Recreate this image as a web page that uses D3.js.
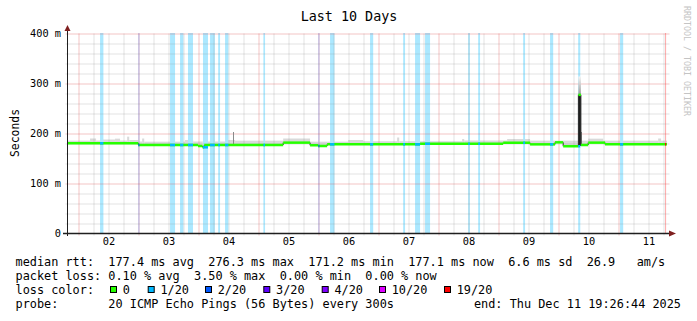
<!DOCTYPE html>
<html lang="en">
<head>
<meta charset="UTF-8">
<title>Last 10 Days</title>
<script src="https://d3js.org/d3.v7.min.js"></script>
<style>
  body { margin: 0; background: #fff; }
  svg { display: block; }
  text { font-family: "DejaVu Sans Mono", monospace; white-space: pre; }
</style>
</head>
<body>
<div id="chart"></div>
<script>
const width = 697, height = 321;
const start = "2025-12-01 19:26:44", end = "2025-12-11 19:26:44";
const dayLabels = ["02", "03", "04", "05", "06", "07", "08", "09", "10", "11"];
const yTicks = [0, 100, 200, 300, 400];

// median rtt (ms), step changes
const medianSteps = [
  ["2025-12-01 19:26", 179.4],
  ["2025-12-03 00:00", 176.0],
  ["2025-12-03 23:50", 174.0],
  ["2025-12-04 01:40", 171.4],
  ["2025-12-04 02:20", 176.0],
  ["2025-12-05 09:55", 180.7],
  ["2025-12-05 20:40", 175.5],
  ["2025-12-05 23:55", 174.0],
  ["2025-12-06 03:30", 177.3],
  ["2025-12-07 16:40", 178.5],
  ["2025-12-09 01:55", 180.5],
  ["2025-12-09 12:40", 177.3],
  ["2025-12-09 22:40", 181.3],
  ["2025-12-10 01:55", 173.5],
  ["2025-12-10 08:00", 276.3],
  ["2025-12-10 09:00", 176.0],
  ["2025-12-10 11:55", 180.7],
  ["2025-12-10 18:40", 177.3]
];

// upper edge of the smoke (ms)
const smokeSteps = [
  ["2025-12-01 19:26", 184.7],
  ["2025-12-02 04:40", 189],
  ["2025-12-02 07:05", 185],
  ["2025-12-02 08:40", 187],
  ["2025-12-02 14:40", 188.7],
  ["2025-12-02 16:40", 185],
  ["2025-12-02 19:30", 192.7],
  ["2025-12-02 20:20", 186],
  ["2025-12-02 23:55", 183],
  ["2025-12-03 01:30", 189],
  ["2025-12-03 02:20", 182.7],
  ["2025-12-03 18:40", 186],
  ["2025-12-03 21:55", 183],
  ["2025-12-04 05:30", 189],
  ["2025-12-04 06:20", 183],
  ["2025-12-04 11:30", 186],
  ["2025-12-04 14:40", 184.7],
  ["2025-12-05 09:55", 189],
  ["2025-12-05 20:40", 182.7],
  ["2025-12-06 11:55", 186],
  ["2025-12-06 17:55", 183.5],
  ["2025-12-07 07:30", 191],
  ["2025-12-07 08:20", 183.5],
  ["2025-12-08 09:30", 188],
  ["2025-12-08 10:20", 185],
  ["2025-12-09 03:30", 188],
  ["2025-12-09 12:40", 184.7],
  ["2025-12-10 11:55", 188.7],
  ["2025-12-10 17:55", 184.7],
  ["2025-12-11 15:55", 189],
  ["2025-12-11 17:05", 184.7]
];

// single dark smoke peaks: time, top (ms)
const darkSmoke = [
  ["2025-12-04 13:55", 202],
  ["2025-12-10 09:20", 202]
];

// the spike: from, to, low, median, high (ms)
const spike = [["2025-12-10 08:00", "2025-12-10 09:00", 174, 276.3, 313]];

// loss periods: from, to, loss level index
const lossSpans = [
  ["2025-12-02 08:40", "2025-12-02 10:00", 1],
  ["2025-12-03 00:00", "2025-12-03 00:25", 2],
  ["2025-12-03 12:40", "2025-12-03 14:40", 1],
  ["2025-12-03 16:40", "2025-12-03 18:00", 1],
  ["2025-12-03 19:50", "2025-12-03 21:50", 1],
  ["2025-12-04 01:50", "2025-12-04 03:50", 1],
  ["2025-12-04 04:40", "2025-12-04 06:35", 1],
  ["2025-12-04 07:55", "2025-12-04 08:40", 1],
  ["2025-12-04 10:40", "2025-12-04 12:00", 1],
  ["2025-12-05 02:00", "2025-12-05 02:40", 1],
  ["2025-12-06 00:00", "2025-12-06 00:25", 2],
  ["2025-12-06 04:40", "2025-12-06 06:25", 1],
  ["2025-12-06 20:40", "2025-12-06 21:55", 1],
  ["2025-12-07 09:55", "2025-12-07 10:40", 1],
  ["2025-12-07 14:40", "2025-12-07 16:40", 1],
  ["2025-12-07 18:40", "2025-12-07 20:40", 1],
  ["2025-12-08 11:55", "2025-12-08 12:35", 1],
  ["2025-12-08 15:55", "2025-12-08 16:40", 1],
  ["2025-12-09 09:55", "2025-12-09 10:40", 1],
  ["2025-12-09 20:40", "2025-12-09 21:55", 1],
  ["2025-12-10 07:55", "2025-12-10 08:45", 1],
  ["2025-12-11 00:40", "2025-12-11 01:55", 1],
  ["2025-12-11 18:40", "2025-12-11 19:05", 6]
];

const lossLabels = ["0", "1/20", "2/20", "3/20", "4/20", "10/20", "19/20"];
const lossColors = ["#26ff00", "#00b8ff", "#0059ff", "#5e00ff", "#7e00ff", "#dd00ff", "#ff0000"];

const legendLines = [
  "median rtt:  177.4 ms avg  276.3 ms max  171.2 ms min  177.1 ms now  6.6 ms sd  26.9   am/s",
  "packet loss: 0.10 % avg  3.50 % max  0.00 % min  0.00 % now",
  "loss color:",
  "probe:       20 ICMP Echo Pings (56 Bytes) every 300s"
];
const endLabel = "end: Thu Dec 11 19:26:44 2025";

const parseT = d3.utcParse("%Y-%m-%d %H:%M");
const parseS = d3.utcParse("%Y-%m-%d %H:%M:%S");
const t0 = parseS(start), t1 = parseS(end);

const x = d3.scaleUtc().domain([t0, t1]).range([67, 667]);
const y = d3.scaleLinear().domain([0, 400]).range([233, 33]);

const svg = d3.select("#chart").append("svg")
    .attr("width", width)
    .attr("height", height)
    .style("background", "#fff");

// median as segments
const med = medianSteps.map((d, i) => ({
  a: i === 0 ? t0 : parseT(d[0]),
  b: i < medianSteps.length - 1 ? parseT(medianSteps[i + 1][0]) : t1,
  v: d[1]
}));
const medianAt = t => {
  for (const s of med) if (t >= s.a && t < s.b) return s.v;
  return med[med.length - 1].v;
};

// smoke: split on every median / smoke break
const smk = smokeSteps.map((d, i) => ({
  a: i === 0 ? t0 : parseT(d[0]),
  b: i < smokeSteps.length - 1 ? parseT(smokeSteps[i + 1][0]) : t1,
  v: d[1]
}));
const smokeParts = [];
smk.forEach(s => {
  const cuts = [s.a, ...med.map(m => m.a).filter(t => t > s.a && t < s.b), s.b];
  for (let i = 0; i < cuts.length - 1; i++) {
    const mv = medianAt(cuts[i]);
    if (mv < s.v) smokeParts.push({ a: cuts[i], b: cuts[i + 1], lo: mv, hi: s.v });
  }
});

svg.append("g").selectAll("rect")
  .data(smokeParts)
  .join("rect")
    .attr("x", d => x(d.a))
    .attr("width", d => x(d.b) - x(d.a))
    .attr("y", d => y(d.hi))
    .attr("height", d => y(d.lo) - y(d.hi))
    .attr("fill", "#d9d9d9");

// loss background
const lossBg = lossSpans.map(d => ({ a: parseT(d[0]), b: parseT(d[1]), l: d[2] }));
svg.append("g").selectAll("rect")
  .data(lossBg)
  .join("rect")
    .attr("x", d => x(d.a))
    .attr("width", d => Math.max(1, x(d.b) - x(d.a)))
    .attr("y", y(400))
    .attr("height", y(0) - y(400))
    .attr("fill", d => d3.interpolateRgb(lossColors[d.l], "#fff")(0.67));

// grid
const grid = svg.append("g").attr("transform", "translate(0.5,0.5)");
const snap = v => Math.floor(v);
const minorX = d3.utcHour.every(6).range(t0, t1).filter(t => t.getUTCHours() !== 0);
const majorX = d3.utcDay.range(t0, t1);
const minorY = d3.range(0, 401, 20).filter(v => v % 100 !== 0);
const gridGrey = "rgba(143,143,143,0.25)", gridRed = "rgba(222,79,79,0.33)";

grid.append("g").call(d3.axisBottom(x).tickValues(minorX).tickSize(-202).tickFormat(""))
  .attr("transform", "translate(0,235)")
  .call(g => g.select(".domain").remove())
  .call(g => g.selectAll("line").attr("stroke", gridGrey)
    .attr("transform", d => `translate(${snap(x(d)) - x(d)},0)`));
grid.append("g").call(d3.axisLeft(y).tickValues(minorY).tickSize(-604).tickFormat(""))
  .attr("transform", "translate(65,0)")
  .call(g => g.select(".domain").remove())
  .call(g => g.selectAll("line").attr("stroke", gridGrey));
grid.append("g").call(d3.axisBottom(x).tickValues(majorX).tickSize(-202).tickFormat(""))
  .attr("transform", "translate(0,235)")
  .call(g => g.select(".domain").remove())
  .call(g => g.selectAll("line").attr("stroke", gridRed)
    .attr("transform", d => `translate(${snap(x(d)) - x(d)},0)`));
grid.append("g").call(d3.axisLeft(y).tickValues(yTicks.filter(v => v > 0)).tickSize(-604).tickFormat(""))
  .attr("transform", "translate(65,0)")
  .call(g => g.select(".domain").remove())
  .call(g => g.selectAll("line").attr("stroke", gridRed));

// dark smoke peaks
svg.append("g").selectAll("line")
  .data(darkSmoke)
  .join("line")
    .attr("x1", d => snap(x(parseT(d[0]))) + 0.5)
    .attr("x2", d => snap(x(parseT(d[0]))) + 0.5)
    .attr("y1", d => y(medianAt(parseT(d[0]))))
    .attr("y2", d => y(d[1]))
    .attr("stroke", "#8a8a8a");

// spike column
const grad = svg.append("defs").append("linearGradient")
    .attr("id", "spikeGrad").attr("x1", 0).attr("x2", 0).attr("y1", 0).attr("y2", 1);
grad.append("stop").attr("offset", "0%").attr("stop-color", "#f4f4f4");
grad.append("stop").attr("offset", "100%").attr("stop-color", "#9a9a9a");
spike.forEach(d => {
  const a = parseT(d[0]), b = parseT(d[1]);
  svg.append("rect")
    .attr("x", x(a)).attr("width", x(b) - x(a))
    .attr("y", y(d[4])).attr("height", y(d[3]) - y(d[4]))
    .attr("fill", "url(#spikeGrad)");
  svg.append("rect")
    .attr("x", x(a)).attr("width", x(b) - x(a))
    .attr("y", y(d[3])).attr("height", y(d[2]) - y(d[3]))
    .attr("fill", "#1e1e1e");
});

// median line: connectors, segments, loss-coloured segments
const lineG = svg.append("g");
lineG.selectAll("line.conn")
  .data(med.slice(1).map((m, i) => ({ t: m.a, v0: med[i].v, v1: m.v })))
  .join("line")
    .attr("class", "conn")
    .attr("x1", d => x(d.t)).attr("x2", d => x(d.t))
    .attr("y1", d => y(d.v0)).attr("y2", d => y(d.v1))
    .attr("stroke", "#2a2a2a").attr("stroke-width", 1);
lineG.selectAll("line.seg")
  .data(med)
  .join("line")
    .attr("class", "seg")
    .attr("x1", d => x(d.a)).attr("x2", d => x(d.b))
    .attr("y1", d => y(d.v)).attr("y2", d => y(d.v))
    .attr("stroke", lossColors[0]).attr("stroke-width", 2.5);
lineG.selectAll("line.loss")
  .data(lossBg)
  .join("line")
    .attr("class", "loss")
    .attr("x1", d => x(d.a)).attr("x2", d => x(d.a) + Math.max(1, x(d.b) - x(d.a)))
    .attr("y1", d => y(medianAt(d.a))).attr("y2", d => y(medianAt(d.a)))
    .attr("stroke", d => lossColors[d.l]).attr("stroke-width", 2.5);

// axes
svg.append("line").attr("x1", 67.5).attr("x2", 67.5).attr("y1", 236).attr("y2", 30)
  .attr("stroke", "#1f1f1f");
svg.append("line").attr("x1", 63).attr("x2", 670).attr("y1", 233.5).attr("y2", 233.5)
  .attr("stroke", "#1f1f1f").attr("stroke-width", 1.5);
svg.append("path").attr("d", "M64.5,31L67.5,25L70.5,31Z").attr("fill", "#7f1f1f");
svg.append("path").attr("d", "M669,230.5L676,233.5L669,236.5Z").attr("fill", "#7f1f1f");

// y labels
svg.append("g")
    .attr("transform", "translate(61,0)")
    .call(d3.axisLeft(y).tickValues(yTicks).tickSize(0).tickPadding(0)
      .tickFormat(v => v === 0 ? "0" : v + " m"))
    .call(g => g.select(".domain").remove())
    .call(g => g.selectAll("text")
      .attr("font-family", "DejaVu Sans Mono").attr("font-size", 10.3).attr("fill", "#000"));

// x labels at noon
const noons = dayLabels.map(d => parseT("2025-12-" + d + " 12:00"));
svg.append("g")
    .attr("transform", "translate(0,238)")
    .call(d3.axisBottom(x).tickValues(noons).tickSize(0).tickPadding(0)
      .tickFormat((d, i) => dayLabels[i]))
    .call(g => g.select(".domain").remove())
    .call(g => g.selectAll("text")
      .attr("font-family", "DejaVu Sans Mono").attr("font-size", 10.3).attr("fill", "#000"));

// title, unit, watermark
svg.append("text").attr("x", 349).attr("y", 20.5).attr("text-anchor", "middle")
  .attr("font-size", 13.4).text("Last 10 Days");
svg.append("text").attr("transform", "translate(18.5,133) rotate(-90)")
  .attr("text-anchor", "middle").attr("font-size", 11.4).text("Seconds");
svg.append("text").attr("transform", "translate(684,6) rotate(90)")
  .attr("font-size", 8.3).attr("fill", "#c4c4c4").text("RRDTOOL / TOBI OETIKER");

// legend
const legY = [266, 280, 294, 308];
svg.append("g").selectAll("text")
  .data(legendLines)
  .join("text")
    .attr("x", 15.5)
    .attr("y", (d, i) => legY[i])
    .attr("font-size", 11.86)
    .text(d => d);
svg.append("text").attr("x", 681).attr("y", legY[3]).attr("text-anchor", "end")
  .attr("font-size", 11.86).text(endLabel);

const boxX = [110, 147.7, 205, 263.3, 321.7, 379, 444];
const lg = svg.append("g").selectAll("g")
  .data(lossLabels)
  .join("g")
    .attr("transform", (d, i) => `translate(${boxX[i]},${legY[2]})`);
lg.append("rect").attr("x", 0.5).attr("y", -7.5).attr("width", 6).attr("height", 6)
  .attr("fill", (d, i) => lossColors[i]).attr("stroke", "#000").attr("stroke-width", 1);
lg.append("text").attr("x", 12.7).attr("y", 0).attr("font-size", 11.86).text(d => d);
</script>
</body>
</html>
